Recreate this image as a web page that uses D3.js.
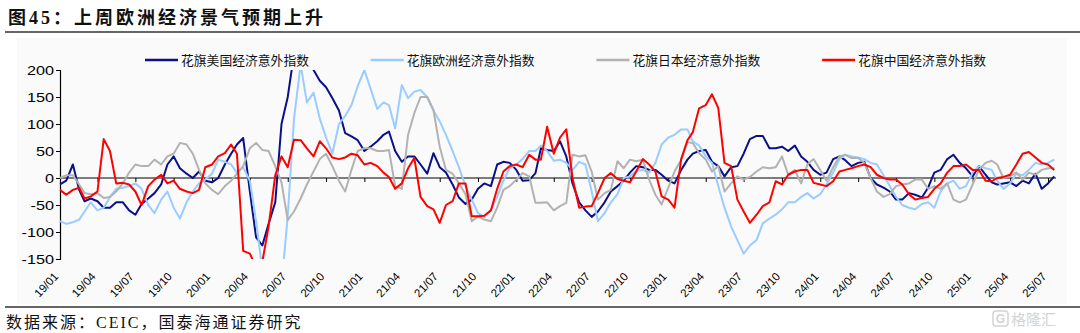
<!DOCTYPE html>
<html><head><meta charset="utf-8">
<script src="https://cdn.jsdelivr.net/npm/d3@7"></script>
<style>body{margin:0;background:#fff;}svg{display:block;}</style>
</head><body><svg id="c" width="1080" height="333"></svg>
<script>
// semi-monthly observations starting 2019-01-01 (1st and 16th of each month)
const usValues=[-12,-5,25,-22,-43,-38,-43,-55,-55,-45, -45,-60,-68,-48,-38,-28,-12,25,40,18, 8,0,12,-5,-8,0,25,45,62,74, -25,-110,-125,-85,-45,100,150,230,270,250, 200,180,168,148,125,83,77,70,50,58, 68,80,86,
50,30,40,40,25,8,46,20,10,-12, -36,-48,-40,-20,-10,-15,25,30,28,15, -5,-4,9,55,52,50,68,40,-10,-45, -60,-72,-62,-45,-25,-15,-5,10,22,20, 15,15,6,-5,-10,15,34,45,50,52, 30,22,
3,20,22,45,72,78,78,55,55,58, 50,60,40,30,15,6,10,35,40,33, 22,28,30,0,-12,-18,-25,-40,-40,-28, -31,-36,-18,10,15,35,43,28,18,3, 22,6,-8,-12,-10,-8,-15,-5,-10,8, -20,-10,3];
const euValues=[-80,-85,-82,-77,-62,-45,-60,-55,-35,-20, -18,-15,-10,-20,-50,-65,-40,-25,-55,-75, -45,-25,-10,-3,8,34,30,25,10,20, -5,-80,-170,-230,-240,-200,-70,110,210,140, 158,110,75,45,100,115,135,170,200,165, 128,140,135,
92,172,148,160,163,150,125,105,80,50, 20,-15,-40,-65,-72,-60,-35,-5,18,25, 35,50,50,60,50,32,34,28,15,30, 25,-25,-80,-65,-45,-30,0,3,13,15, 10,28,62,75,80,90,90,68,60,40, 28,-15,
-55,-90,-115,-140,-125,-115,-84,-75,-68,-58, -45,-45,-35,-28,-38,-30,-12,10,35,43, 40,38,35,28,25,5,-15,-35,-50,-55, -58,-48,-45,-55,-25,-10,-5,-20,-15,10, 22,18,15,-5,-20,-10,8,5,15,28, 25,28,34];
const jpValues=[0,5,5,-12,-28,-30,-28,-37,-35,-25, -10,10,25,22,22,34,25,40,45,65, 62,45,15,-10,-22,-30,-15,-5,8,22, 55,65,52,50,22,-8,-78,-62,-38,-12, 12,35,45,22,-5,-25,15,50,55,55, 50,50,52,
-15,-20,80,120,150,150,126,58,15,8, -10,-30,-80,-71,-77,-80,-55,-22,-15,-3, 9,3,-46,-46,-45,-60,-52,-46,43,40, 42,12,-40,-28,-22,31,18,34,31,34, -3,-31,-49,-18,12,34,66,65,46,34, 12,22,
-25,-10,3,-3,2,12,20,18,20,40, 6,15,-10,25,35,15,-5,20,40,43, 37,37,28,0,-25,-35,-30,-15,-12,-10, -3,-3,-20,-15,-20,-10,-40,-45,-40,-12, 15,28,32,25,0,3,10,-3,10,6, 15,18,18];
const cnValues=[-22,-31,-22,-18,-38,-34,-25,72,50,-10, -9,-12,-25,-50,-15,-3,6,-10,-5,-20, -25,-28,-22,20,25,40,46,62,45,-135, -140,-165,-155,-90,5,40,20,71,70,55, 40,68,55,38,35,38,45,42,25,28, 22,10,2,
-20,-10,18,37,-35,-52,-58,-83,-50,-43, -10,-10,-71,-71,-70,-60,-20,12,22,25, 20,43,34,34,95,45,75,90,0,-55, -53,-52,-28,0,9,-2,-5,-8,12,35, 25,12,-34,-40,-55,35,70,85,129,135, 155,130,
28,22,-40,-62,-83,-68,-52,-45,-6,-12, 6,12,15,15,-9,-12,-15,-6,12,15, 18,22,25,20,6,0,-3,-3,-12,-30, -40,-37,-35,-20,-10,10,22,22,25,15, 15,-5,-6,0,2,6,25,45,48,38, 28,25,15];
const seriesNames=["花旗美国经济意外指数","花旗欧洲经济意外指数","花旗日本经济意外指数","花旗中国经济意外指数"];
const tickLabels=["19/01","19/04","19/07","19/10","20/01","20/04","20/07","20/10","21/01","21/04","21/07","21/10","22/01","22/04","22/07","22/10","23/01","23/04","23/07","23/10","24/01","24/04","24/07","24/10","25/01","25/04","25/07"];
const yTicks=[-150,-100,-50,0,50,100,150,200];

const colors=["#0a0f8a","#99ccff","#b2b2b2","#ff0000"];
const seriesList=[usValues,euValues,jpValues,cnValues];
const dateOf=k=>new Date(2019,Math.floor(k/2),k%2?16:1);
const tickDate=s=>new Date(2000+(+s.slice(0,2)),(+s.slice(3))-1,1);

const svg=d3.select("#c");
const x=d3.scaleTime().domain([new Date(2019,0,1),new Date(2025,6,1)]).range([60,1048]);
const y=d3.scaleLinear().domain([-150,200]).range([259,70]);

svg.append("rect").attr("x",17).attr("y",38).attr("width",1050).attr("height",266).attr("fill","#fafafa");

// title
svg.append("text").attr("x",8).attr("y",24).attr("font-family","'Liberation Serif','Noto Sans CJK SC'")
 .attr("font-weight","bold").attr("font-size",18).attr("letter-spacing",3).attr("fill","#111")
 .text("图45：上周欧洲经济景气预期上升");
svg.append("line").attr("x1",5).attr("x2",1080).attr("y1",32).attr("y2",32).attr("stroke","#333").attr("stroke-width",1.5);
svg.append("line").attr("x1",5).attr("x2",1080).attr("y1",307).attr("y2",307).attr("stroke","#333").attr("stroke-width",1.5);
svg.append("text").attr("x",6).attr("y",328).attr("font-family","'Liberation Serif','Noto Sans CJK SC'")
 .attr("font-size",16).attr("letter-spacing",2).attr("fill","#111").text("数据来源：CEIC，国泰海通证券研究");

// watermark
const wm=svg.append("g").attr("opacity",0.9);
wm.append("rect").attr("x",993).attr("y",311).attr("width",15).attr("height",15).attr("rx",3).attr("fill","none").attr("stroke","#cfcfcf").attr("stroke-width",1.5);
wm.append("text").attr("x",1000.5).attr("y",323).attr("text-anchor","middle").attr("font-family","Liberation Sans").attr("font-weight","bold").attr("font-size",12).attr("fill","#cfcfcf").text("G");
wm.append("text").attr("x",1011).attr("y",325).attr("font-family","'Noto Sans CJK SC'").attr("font-size",15).attr("fill","#d0d0d0").text("格隆汇");

// y axis
const ya=svg.append("g").attr("transform","translate(60,0)")
 .call(d3.axisLeft(y).tickValues(yTicks).tickSize(4).tickFormat(""));
ya.select(".domain").attr("stroke","#000").attr("stroke-width",1.2);
ya.selectAll(".tick line").attr("stroke","#000");
svg.append("g").selectAll("text").data(yTicks).join("text")
 .attr("transform",d=>`translate(54,${y(d)+4.5}) scale(1.3,1)`)
 .attr("text-anchor","end").attr("font-family","'Liberation Sans',Arial").attr("font-size",12.5).attr("fill","#000")
 .text(d=>d);

// zero axis
const xa=svg.append("g").attr("transform",`translate(0,${y(0)})`)
 .call(d3.axisBottom(x).tickValues(tickLabels.map(tickDate)).tickSize(4).tickFormat("").tickSizeOuter(0));
xa.select(".domain").attr("d","M60,0H1056").attr("stroke","#000").attr("stroke-width",1.2);
xa.selectAll(".tick line").attr("stroke","#000");
svg.append("g").selectAll("text").data(tickLabels).join("text")
 .attr("transform",d=>`translate(${x(tickDate(d))-1},277) rotate(-47)`)
 .attr("text-anchor","end").attr("font-family","'Liberation Sans',Arial").attr("font-size",11.5).attr("fill","#000")
 .text(d=>d);

// lines
svg.append("clipPath").attr("id","pc").append("rect").attr("x",58).attr("y",70).attr("width",1010).attr("height",189);
const line=d3.line().x((d,i)=>x(dateOf(i))).y(d=>y(d));
const g=svg.append("g").attr("clip-path","url(#pc)");
seriesList.forEach((s,i)=>{
  g.append("path").datum(s).attr("d",line).attr("fill","none").attr("stroke",colors[i])
   .attr("stroke-width",2).attr("stroke-linejoin","round");
});

// legend
const lg=svg.append("g");
seriesNames.forEach((n,i)=>{
  const lx=145+i*225.7;
  lg.append("line").attr("x1",lx).attr("x2",lx+33).attr("y1",60).attr("y2",60).attr("stroke",colors[i]).attr("stroke-width",2.5);
  lg.append("text").attr("x",lx+36).attr("y",65).attr("font-family","'Noto Sans CJK SC'").attr("font-size",12.8).attr("fill","#111").text(n);
});
</script></body></html>
